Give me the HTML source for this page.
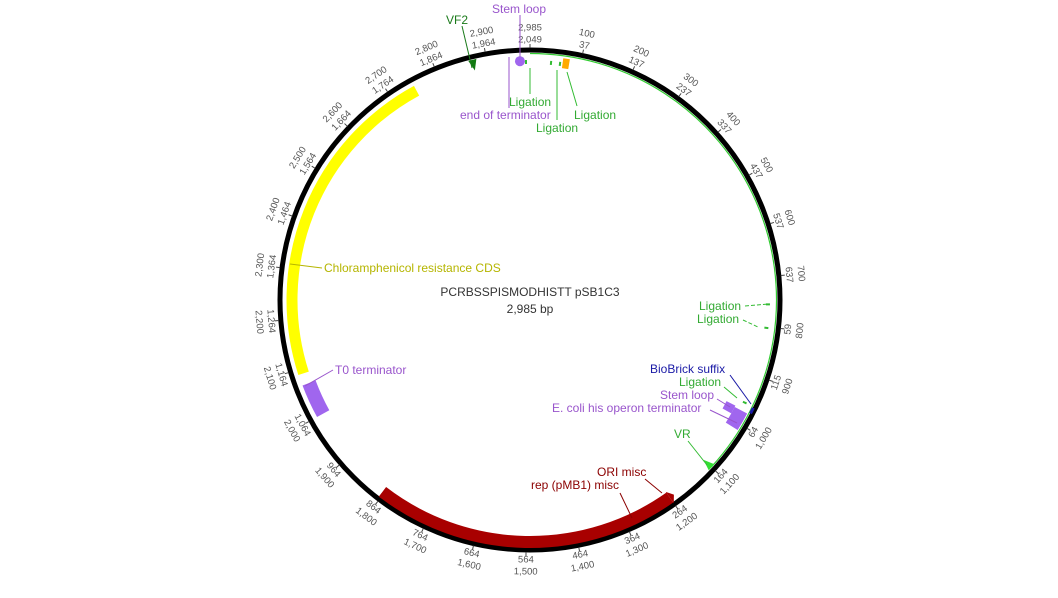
<!DOCTYPE html>
<html><head><meta charset="utf-8">
<style>
html,body{margin:0;padding:0;background:#fff;}
svg{display:block;font-family:"Liberation Sans",sans-serif;}
</style></head>
<body>
<svg id="map" width="1058" height="598" viewBox="0 0 1058 598">
<g id="features"></g>
<g id="ticks"></g>
<g id="labels" font-size="12">
  <text x="530" y="296" text-anchor="middle" fill="#333">PCRBSSPISMODHISTT pSB1C3</text>
  <text x="530" y="313" text-anchor="middle" fill="#333">2,985 bp</text>

  <line x1="462" y1="26" x2="472" y2="68" stroke="#1a7a1a"/>
  <text x="446" y="24" fill="#1a7a1a">VF2</text>
  <line x1="520" y1="15" x2="520" y2="57" stroke="#9955cc"/>
  <text x="519" y="13" text-anchor="middle" fill="#9955cc">Stem loop</text>
  <line x1="509" y1="57" x2="509" y2="108" stroke="#9955cc"/>
  <line x1="530" y1="68" x2="530" y2="94" stroke="#33bb33"/>
  <line x1="557" y1="70" x2="557" y2="120" stroke="#33bb33"/>
  <line x1="567" y1="72" x2="577" y2="106" stroke="#33bb33"/>
  <text x="509" y="106" fill="#33aa33">Ligation</text>
  <text x="460" y="119" fill="#9955cc">end of terminator</text>
  <text x="536" y="132" fill="#33aa33">Ligation</text>
  <text x="574" y="119" fill="#33aa33">Ligation</text>

  <line x1="290" y1="264" x2="322" y2="268" stroke="#b5b500"/>
  <text x="324" y="272" fill="#b5b500">Chloramphenicol resistance CDS</text>
  <line x1="305" y1="386" x2="333" y2="370" stroke="#9955cc"/>
  <text x="335" y="374" fill="#9955cc">T0 terminator</text>

  <line x1="745" y1="306" x2="768" y2="304" stroke="#33bb33" stroke-dasharray="4,2"/>
  <text x="699" y="310" fill="#33aa33">Ligation</text>
  <line x1="743" y1="320" x2="758" y2="327" stroke="#33bb33" stroke-dasharray="4,2"/>
  <text x="697" y="323" fill="#33aa33">Ligation</text>
  <line x1="730" y1="375" x2="751" y2="404" stroke="#1a1aa6"/>
  <text x="650" y="373" fill="#1a1aa6">BioBrick suffix</text>
  <line x1="724" y1="387" x2="737" y2="398" stroke="#33bb33"/>
  <text x="679" y="386" fill="#33aa33">Ligation</text>
  <line x1="717" y1="399" x2="730" y2="407" stroke="#9955cc"/>
  <text x="660" y="399" fill="#9955cc">Stem loop</text>
  <line x1="710" y1="410" x2="737" y2="423" stroke="#9955cc"/>
  <text x="552" y="412" fill="#9955cc">E. coli his operon terminator</text>
  <line x1="688" y1="441" x2="707" y2="465" stroke="#33bb33"/>
  <text x="674" y="438" fill="#33aa33">VR</text>
  <line x1="645" y1="479" x2="662" y2="493" stroke="#8b0000"/>
  <text x="597" y="476" fill="#8b0000">ORI misc</text>
  <line x1="620" y1="493" x2="632" y2="518" stroke="#8b0000"/>
  <text x="531" y="489" fill="#8b0000">rep (pMB1) misc</text>
</g>
</svg>
<script>
const TOTAL = 2985;
const tickPositions = [100,200,300,400,500,600,700,800,900,1000,1100,1200,1300,1400,1500,1600,1700,1800,1900,2000,2100,2200,2300,2400,2500,2600,2700,2800,2900,2985];
const tickOuterLabels = ["100","200","300","400","500","600","700","800","900","1,000","1,100","1,200","1,300","1,400","1,500","1,600","1,700","1,800","1,900","2,000","2,100","2,200","2,300","2,400","2,500","2,600","2,700","2,800","2,900","2,985"];
const tickInnerLabels = ["37","137","237","337","437","537","637","59","115","64","164","264","364","464","564","664","764","864","964","1,064","1,164","1,264","1,364","1,464","1,564","1,664","1,764","1,864","1,964","2,049"];
const featNames = ["chloramphenicol-cds","t0-terminator","rep-pmb1","his-operon-terminator"];
const featStart = [2090,2000,1200,975];
const featEnd = [2749,2068,1804,1012];
const featColor = ["#ffff00","#a066ee","#a80000","#a066ee"];
const ligationPositions = [2977,42,60,755,802,958];
const greenLineStart = 0, greenLineEnd = 1100;

const cx = 530, cy = 300, R = 250;
const NS = "http://www.w3.org/2000/svg";
function ang(bp){ return bp / TOTAL * 2 * Math.PI; }
function px(bp, r){ return cx + r * Math.sin(ang(bp)); }
function py(bp, r){ return cy - r * Math.cos(ang(bp)); }
function mk(tag, attrs, parent){ const e = document.createElementNS(NS, tag); for (const k in attrs) e.setAttribute(k, attrs[k]); parent.appendChild(e); return e; }
function arcPath(a, b, r){
  const large = (b - a) / TOTAL > 0.5 ? 1 : 0;
  return `M${px(a,r)},${py(a,r)} A${r},${r} 0 ${large} 1 ${px(b,r)},${py(b,r)}`;
}
const fg = document.getElementById('features');
const ring = mk('circle', {cx: cx, cy: cy, r: R, fill: 'none', stroke: '#000', 'stroke-width': 5}, fg);


const gl = mk('path', {d: arcPath(greenLineStart, greenLineEnd, 246.5), fill: 'none', stroke: '#33cc33', 'stroke-width': 1.2}, fg);



const radii = [238, 236, 242, 238], widths = [11, 14, 12, 14];
for (let i = 0; i < featNames.length; i++){
  const p = mk('path', {d: arcPath(featStart[i], featEnd[i], radii[i]), fill: 'none', stroke: featColor[i], 'stroke-width': widths[i]}, fg);
  
  
}
{
  const b = featStart[2], tipB = b - 10;
  const d = `M${px(b,249)},${py(b,249)} L${px(tipB,242)},${py(tipB,242)} L${px(b,235)},${py(b,235)} Z`;
  const a = mk('path', {d: d, fill: '#a80000'}, fg);
  
  
}
function tri(bp, color, name){
  const d = `M${px(bp-8,247)},${py(bp-8,247)} L${px(bp+8,247)},${py(bp+8,247)} L${px(bp,236)},${py(bp,236)} Z`;
  const t = mk('path', {d: d, fill: color}, fg);
  
  
}
tri(1100, '#33dd33', 'vr-primer');
tri(2873, '#127a12', 'vf2-primer');
const sl = mk('circle', {cx: px(2965,239), cy: py(2965,239), r: 5, fill: '#a066ee'}, fg);


const sl2 = mk('path', {d: arcPath(972, 990, 226), fill: 'none', stroke: '#a066ee', 'stroke-width': 10}, fg);


const or = mk('path', {d: arcPath(65, 78, 239), fill: 'none', stroke: '#ffaa00', 'stroke-width': 10}, fg);


const bb = mk('path', {d: arcPath(960, 972, 248), fill: 'none', stroke: '#1a1aa6', 'stroke-width': 3}, fg);


for (const bp of ligationPositions){
  const l = mk('path', {d: arcPath(bp-2, bp+2, 238), fill: 'none', stroke: '#33bb33', 'stroke-width': 4}, fg);
  
  
}

const tg = document.getElementById('ticks');
for (let i = 0; i < tickPositions.length; i++){
  const bp = tickPositions[i];
  const tk = mk('line', {x1: px(bp,252), y1: py(bp,252), x2: px(bp,256), y2: py(bp,256), stroke: '#444', 'stroke-width': 1}, tg);
  
  
  let deg = bp / TOTAL * 360;
  const bottom = deg > 90 && deg < 270;
  const rot = bottom ? deg - 180 : deg;
  const rIn = 260, rOut = 272;
  const pairs = [[tickInnerLabels[i], rIn, 'tick-inner-label'], [tickOuterLabels[i], rOut, 'tick-outer-label']];
  for (const [txt, r, nm] of pairs){
    const x = px(bp, r), y = py(bp, r);
    const t = mk('text', {x: x, y: y, 'text-anchor': 'middle', 'dominant-baseline': 'central', 'font-size': 9.5, fill: '#555', transform: `rotate(${rot} ${x} ${y})`}, tg);
    t.textContent = txt;
    
    
  }
}
</script>
</body></html>
